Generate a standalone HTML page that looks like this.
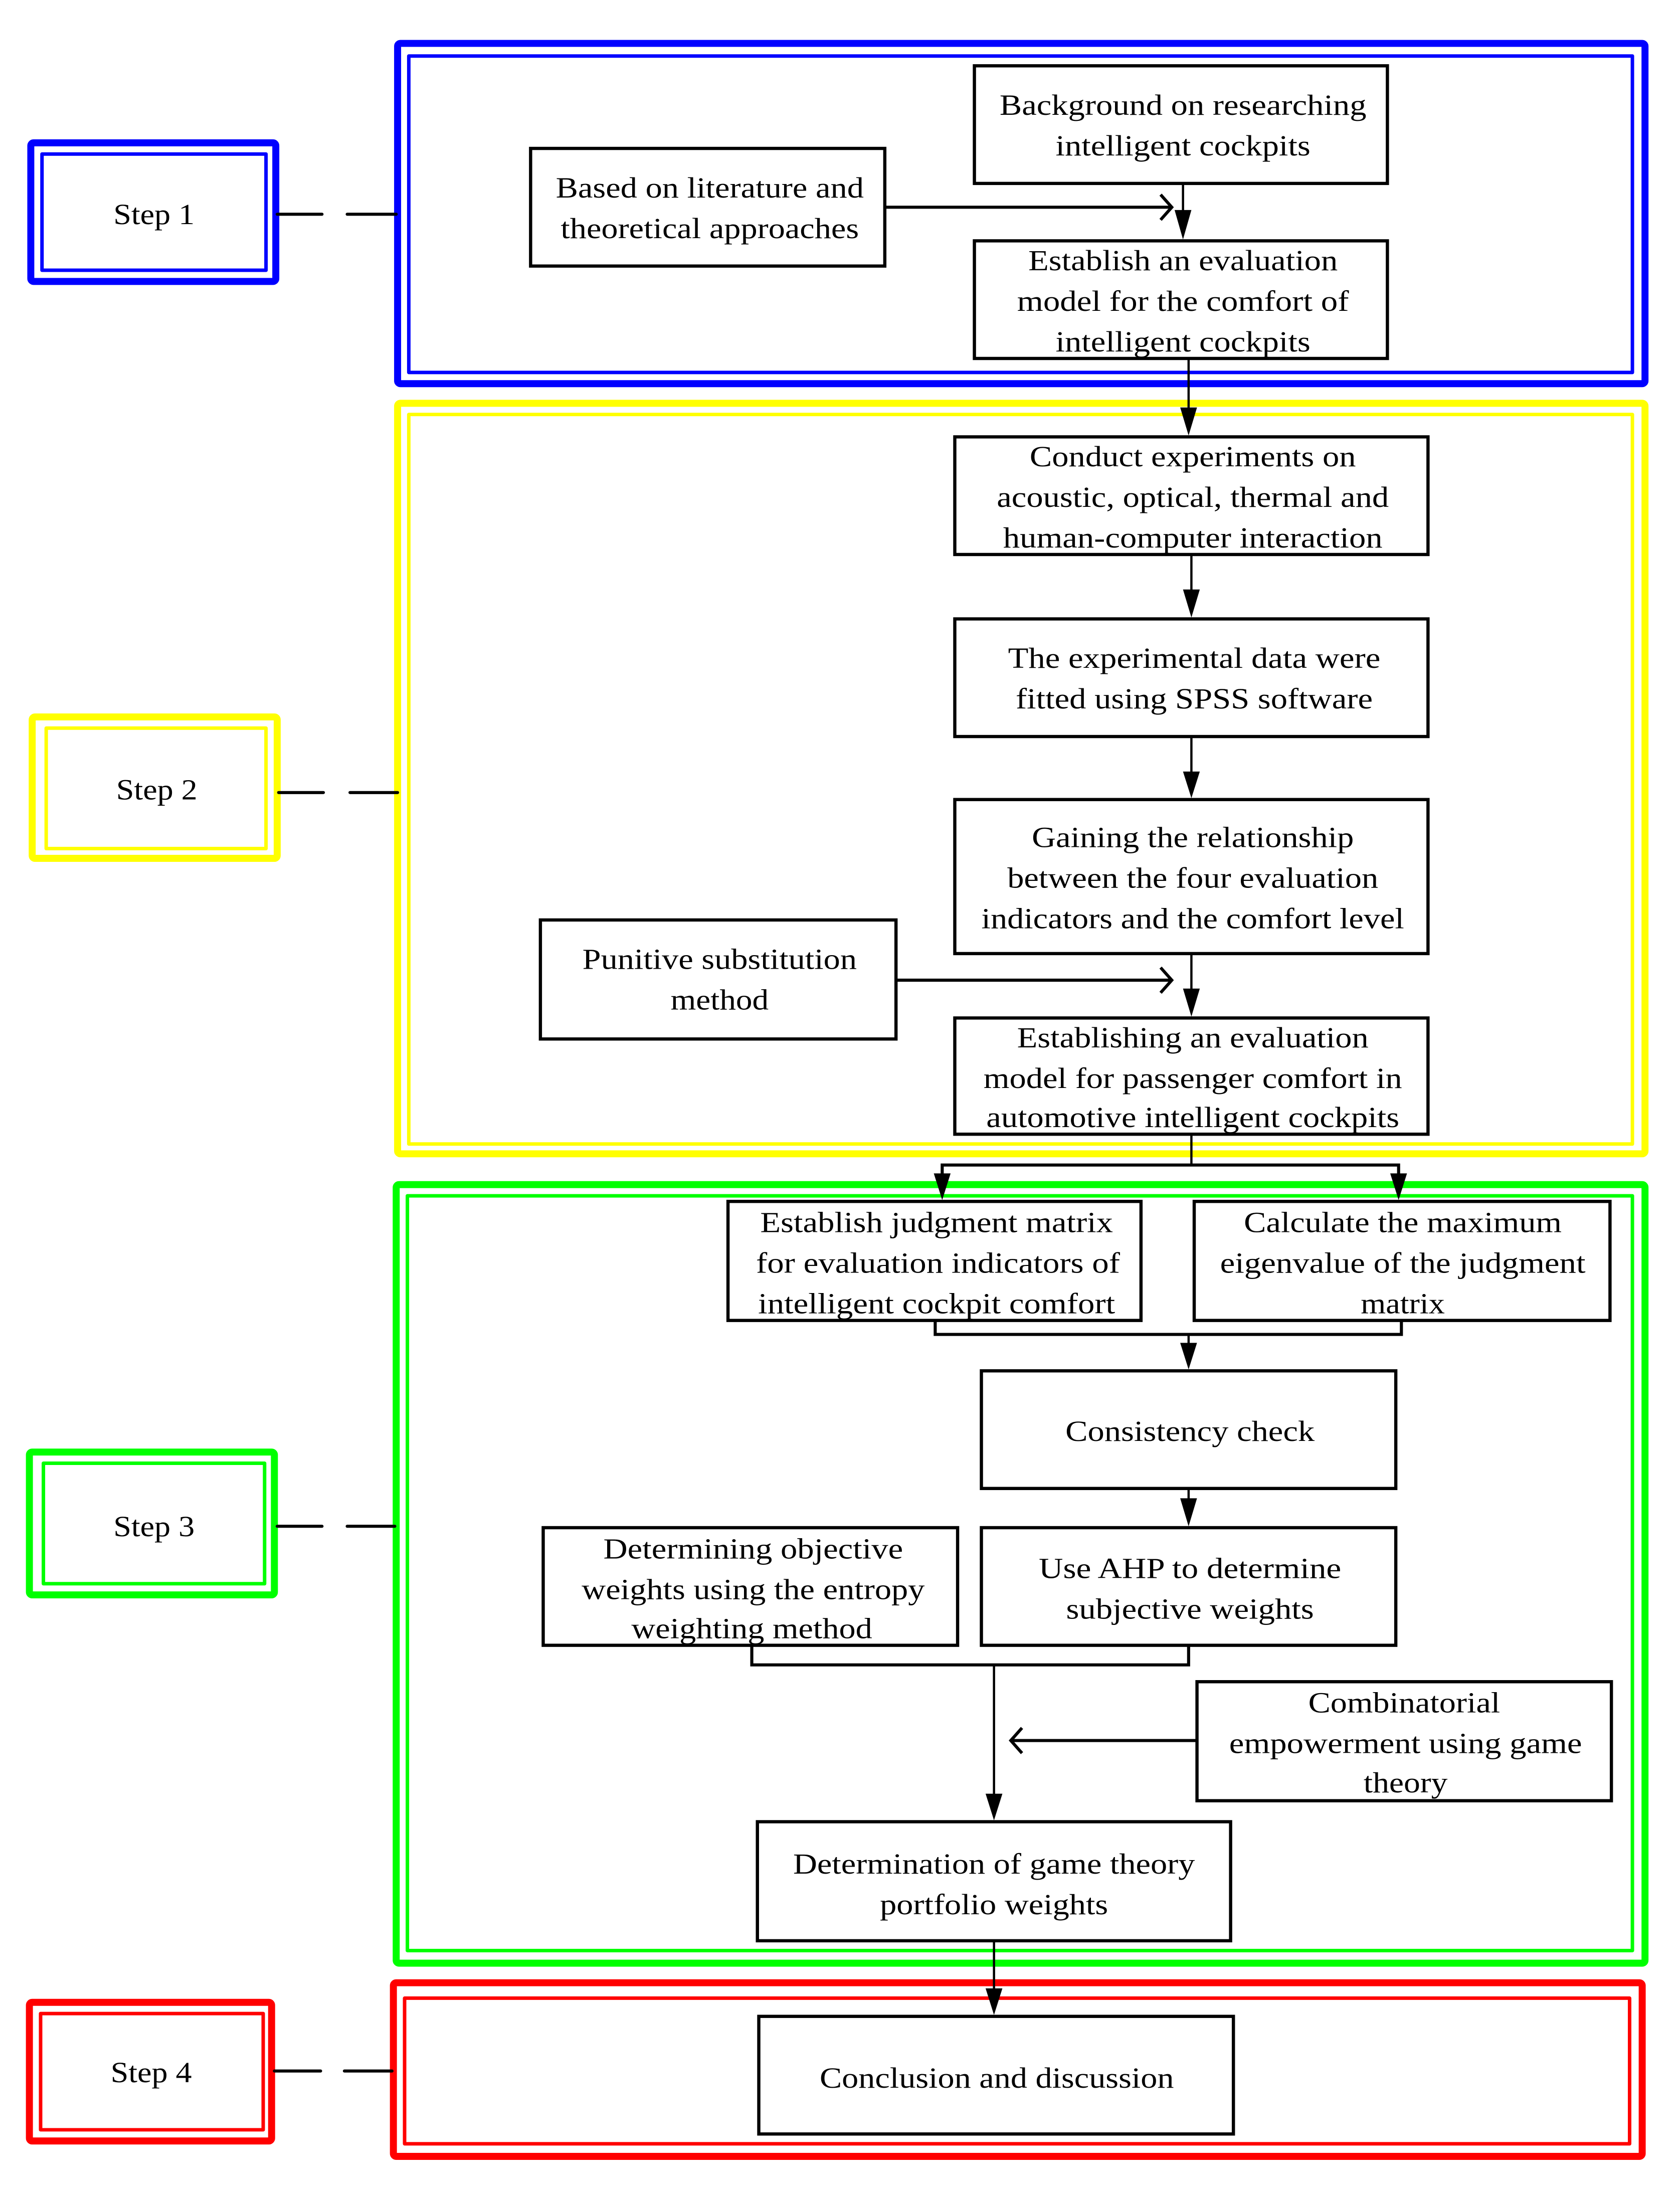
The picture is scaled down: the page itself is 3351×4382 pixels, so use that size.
<!DOCTYPE html>
<html><head><meta charset="utf-8"><style>html,body{margin:0;padding:0;background:#fff}svg{display:block}</style></head>
<body>
<svg xmlns="http://www.w3.org/2000/svg" width="3351" height="4382" viewBox="0 0 1200 1569" preserveAspectRatio="none">
<defs>
<marker id="f" viewBox="0 0 12 20" refX="6" refY="20" markerWidth="12" markerHeight="20" markerUnits="userSpaceOnUse" orient="auto-start-reverse"></marker>
</defs>
<g fill="none" stroke-linejoin="round">
<!-- Step 1 -->
<rect x="22" y="102" width="175" height="99" stroke="#0000ff" stroke-width="5" rx="2"/>
<rect x="30" y="110" width="160" height="83" stroke="#0000ff" stroke-width="2.5"/>
<rect x="284" y="31" width="891" height="243" stroke="#0000ff" stroke-width="5" rx="2"/>
<rect x="292" y="40" width="874" height="226" stroke="#0000ff" stroke-width="2.5"/>
<!-- Step 2 -->
<rect x="23" y="512" width="175" height="101" stroke="#ffff00" stroke-width="5" rx="2"/>
<rect x="33" y="520" width="157" height="86" stroke="#ffff00" stroke-width="2.5"/>
<rect x="284" y="288" width="891" height="536" stroke="#ffff00" stroke-width="5" rx="2"/>
<rect x="292" y="296" width="874" height="521" stroke="#ffff00" stroke-width="2.5"/>
<!-- Step 3 -->
<rect x="21" y="1037" width="175" height="102" stroke="#00ff00" stroke-width="5" rx="2"/>
<rect x="31" y="1045" width="158" height="86" stroke="#00ff00" stroke-width="2.5"/>
<rect x="283" y="846" width="892" height="556" stroke="#00ff00" stroke-width="5" rx="2"/>
<rect x="291" y="854" width="875" height="539" stroke="#00ff00" stroke-width="2.5"/>
<!-- Step 4 -->
<rect x="21" y="1430" width="173" height="99" stroke="#ff0000" stroke-width="5" rx="2"/>
<rect x="29" y="1438" width="159" height="83" stroke="#ff0000" stroke-width="2.5"/>
<rect x="281" y="1416" width="892" height="124" stroke="#ff0000" stroke-width="5" rx="2"/>
<rect x="289" y="1427" width="875" height="104" stroke="#ff0000" stroke-width="2.5"/>
</g>
<!-- dashes -->
<g stroke="#000" stroke-width="2.2" stroke-linecap="round">
<line x1="198" y1="153" x2="230" y2="153"/><line x1="248" y1="153" x2="283" y2="153"/>
<line x1="199" y1="566" x2="231" y2="566"/><line x1="250" y1="566" x2="284" y2="566"/>
<line x1="198" y1="1090" x2="230" y2="1090"/><line x1="248" y1="1090" x2="282" y2="1090"/>
<line x1="196" y1="1479" x2="229" y2="1479"/><line x1="246" y1="1479" x2="280" y2="1479"/>
</g>
<!-- boxes -->
<g fill="none" stroke="#000" stroke-width="2.3">
<rect x="696" y="47" width="295" height="84"/>
<rect x="379" y="106" width="253" height="84"/>
<rect x="696" y="172" width="295" height="84"/>
<rect x="682" y="312" width="338" height="84"/>
<rect x="682" y="442" width="338" height="84"/>
<rect x="682" y="571" width="338" height="110"/>
<rect x="386" y="657" width="254" height="85"/>
<rect x="682" y="727" width="338" height="83"/>
<rect x="520" y="858" width="295" height="85"/>
<rect x="853" y="858" width="297" height="85"/>
<rect x="701" y="979" width="296" height="84"/>
<rect x="701" y="1091" width="296" height="84"/>
<rect x="388" y="1091" width="296" height="84"/>
<rect x="855" y="1201" width="296" height="85"/>
<rect x="541" y="1301" width="338" height="85"/>
<rect x="542" y="1440" width="339" height="84"/>
</g>
<!-- connectors -->
<g fill="none" stroke="#000" stroke-width="1.6">
<line x1="845" y1="131" x2="845" y2="152"/>
<line x1="849" y1="256" x2="849" y2="292"/>
<line x1="851" y1="396" x2="851" y2="422"/>
<line x1="851" y1="526" x2="851" y2="552"/>
<line x1="851" y1="681" x2="851" y2="707"/>
<polyline points="851,810 851,832"/>
<polyline points="673,840 673,832 999,832 999,840" stroke-width="2.2"/>
<polyline points="668,943 668,953 1001,953 1001,943" stroke-width="2.2"/>
<line x1="849" y1="953" x2="849" y2="960"/>
<line x1="849" y1="1063" x2="849" y2="1071"/>
<polyline points="537,1175 537,1189 849,1189 849,1175" stroke-width="2.2"/>
<line x1="710" y1="1189" x2="710" y2="1282"/>
<line x1="710" y1="1386" x2="710" y2="1421"/>
</g>
<g stroke="#000" stroke-width="2.2" fill="none">
<line x1="632" y1="148" x2="837" y2="148"/>
<polyline points="829,139 837,148 829,157"/>
<line x1="640" y1="700" x2="837" y2="700"/>
<polyline points="829,691 837,700 829,709"/>
<line x1="855" y1="1243" x2="722" y2="1243"/>
<polyline points="730,1234 722,1243 730,1252"/>
</g>
<g fill="#000">
<polygon points="839,150 851,150 845,171"/>
<polygon points="843,291 855,291 849,311"/>
<polygon points="845,421 857,421 851,441"/>
<polygon points="845,551 857,551 851,570"/>
<polygon points="845,706 857,706 851,726"/>
<polygon points="667,838 679,838 673,857"/>
<polygon points="993,838 1005,838 999,857"/>
<polygon points="843,959 855,959 849,978"/>
<polygon points="843,1070 855,1070 849,1090"/>
<polygon points="704,1281 716,1281 710,1300"/>
<polygon points="704,1420 716,1420 710,1439"/>
</g>
<!-- text -->
<g font-family="'Liberation Serif', serif" font-size="21" fill="#000" text-anchor="middle" lengthAdjust="spacingAndGlyphs">
<text x="110" y="160" textLength="58" lengthAdjust="spacingAndGlyphs">Step 1</text>
<text x="112" y="571" textLength="58" lengthAdjust="spacingAndGlyphs">Step 2</text>
<text x="110" y="1097" textLength="58" lengthAdjust="spacingAndGlyphs">Step 3</text>
<text x="108" y="1487" textLength="58" lengthAdjust="spacingAndGlyphs">Step 4</text>

<text x="845" y="82" textLength="262" lengthAdjust="spacingAndGlyphs">Background on researching</text>
<text x="845" y="111" textLength="182" lengthAdjust="spacingAndGlyphs">intelligent cockpits</text>
<text x="507" y="141" textLength="220" lengthAdjust="spacingAndGlyphs">Based on literature and</text>
<text x="507" y="170" textLength="213" lengthAdjust="spacingAndGlyphs">theoretical approaches</text>
<text x="845" y="193" textLength="221" lengthAdjust="spacingAndGlyphs">Establish an evaluation</text>
<text x="845" y="222" textLength="237" lengthAdjust="spacingAndGlyphs">model for the comfort of</text>
<text x="845" y="251" textLength="182" lengthAdjust="spacingAndGlyphs">intelligent cockpits</text>

<text x="852" y="333" textLength="233" lengthAdjust="spacingAndGlyphs">Conduct experiments on</text>
<text x="852" y="362" textLength="280" lengthAdjust="spacingAndGlyphs">acoustic, optical, thermal and</text>
<text x="852" y="391" textLength="271" lengthAdjust="spacingAndGlyphs">human-computer interaction</text>
<text x="853" y="477" textLength="266" lengthAdjust="spacingAndGlyphs">The experimental data were</text>
<text x="853" y="506" textLength="255" lengthAdjust="spacingAndGlyphs">fitted using SPSS software</text>
<text x="852" y="605" textLength="230" lengthAdjust="spacingAndGlyphs">Gaining the relationship</text>
<text x="852" y="634" textLength="265" lengthAdjust="spacingAndGlyphs">between the four evaluation</text>
<text x="852" y="663" textLength="302" lengthAdjust="spacingAndGlyphs">indicators and the comfort level</text>
<text x="514" y="692" textLength="196" lengthAdjust="spacingAndGlyphs">Punitive substitution</text>
<text x="514" y="721" textLength="70" lengthAdjust="spacingAndGlyphs">method</text>
<text x="852" y="748" textLength="251" lengthAdjust="spacingAndGlyphs">Establishing an evaluation</text>
<text x="852" y="777" textLength="299" lengthAdjust="spacingAndGlyphs">model for passenger comfort in</text>
<text x="852" y="805" textLength="295" lengthAdjust="spacingAndGlyphs">automotive intelligent cockpits</text>

<text x="669" y="880" textLength="252" lengthAdjust="spacingAndGlyphs">Establish judgment matrix</text>
<text x="670" y="909" textLength="260" lengthAdjust="spacingAndGlyphs">for evaluation indicators of</text>
<text x="669" y="938" textLength="255" lengthAdjust="spacingAndGlyphs">intelligent cockpit comfort</text>
<text x="1002" y="880" textLength="227" lengthAdjust="spacingAndGlyphs">Calculate the maximum</text>
<text x="1002" y="909" textLength="261" lengthAdjust="spacingAndGlyphs">eigenvalue of the judgment</text>
<text x="1002" y="938" textLength="60" lengthAdjust="spacingAndGlyphs">matrix</text>
<text x="850" y="1029" textLength="178" lengthAdjust="spacingAndGlyphs">Consistency check</text>
<text x="538" y="1113" textLength="214" lengthAdjust="spacingAndGlyphs">Determining objective</text>
<text x="538" y="1142" textLength="245" lengthAdjust="spacingAndGlyphs">weights using the entropy</text>
<text x="537" y="1170" textLength="172" lengthAdjust="spacingAndGlyphs">weighting method</text>
<text x="850" y="1127" textLength="216" lengthAdjust="spacingAndGlyphs">Use AHP to determine</text>
<text x="850" y="1156" textLength="177" lengthAdjust="spacingAndGlyphs">subjective weights</text>
<text x="1003" y="1223" textLength="137" lengthAdjust="spacingAndGlyphs">Combinatorial</text>
<text x="1004" y="1252" textLength="252" lengthAdjust="spacingAndGlyphs">empowerment using game</text>
<text x="1004" y="1280" textLength="60" lengthAdjust="spacingAndGlyphs">theory</text>
<text x="710" y="1338" textLength="287" lengthAdjust="spacingAndGlyphs">Determination of game theory</text>
<text x="710" y="1367" textLength="163" lengthAdjust="spacingAndGlyphs">portfolio weights</text>
<text x="712" y="1491" textLength="253" lengthAdjust="spacingAndGlyphs">Conclusion and discussion</text>
</g>
</svg>
</body></html>
